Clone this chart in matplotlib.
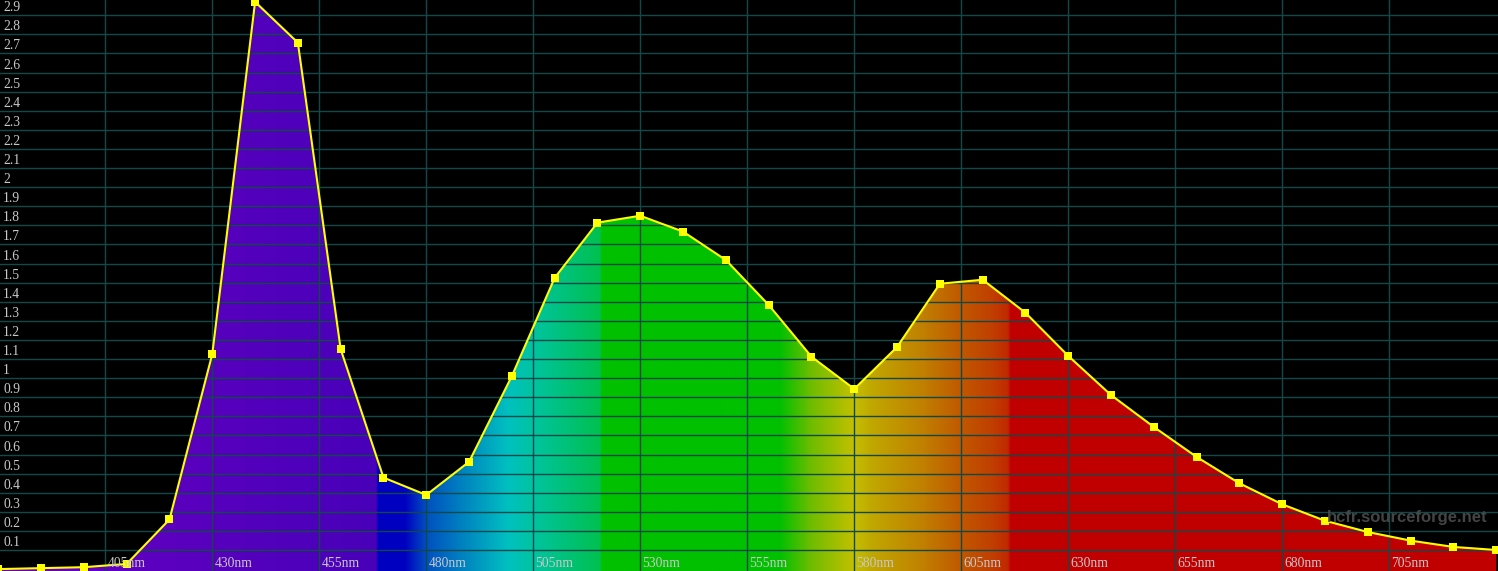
import numpy as np
import matplotlib
matplotlib.use("Agg")
import matplotlib.pyplot as plt
import matplotlib.colors as mcolors

# spectrum samples, every 10 nm
wavelengths = [380, 390, 400, 410, 420, 430, 440, 450, 460, 470, 480, 490, 500,
               510, 520, 530, 540, 550, 560, 570, 580, 590, 600, 610, 620, 630,
               640, 650, 660, 670, 680, 690, 700, 710, 720, 730]
intensity = [0.0, 0.005, 0.01, 0.027, 0.26, 1.126, 2.97, 2.756, 1.151, 0.479,
             0.388, 0.562, 1.011, 1.525, 1.814, 1.850, 1.767, 1.618, 1.383,
             1.112, 0.943, 1.163, 1.494, 1.515, 1.342, 1.116, 0.911, 0.744,
             0.587, 0.449, 0.339, 0.253, 0.194, 0.149, 0.116, 0.100]

y_ticks = [round(0.1 * i, 1) for i in range(1, 30)]
x_ticks = list(range(405, 730, 25))

# fill colour stops along the wavelength axis
color_nm = [380, 468.3, 468.6, 475, 480, 499, 505, 520.5, 521, 562.5, 570,
            580, 584, 596, 605, 612, 616, 616.5, 731]
color_hex = ['#6a00c4', '#4800b8', '#0000c0', '#0000c0', '#0050c0', '#00c0c0',
             '#00c4a0', '#00c050', '#00c000', '#00c000', '#70bc00',
             '#c4c000', '#c0a800', '#c08000', '#c05800', '#c04000',
             '#c02800', '#c00000', '#c00000']

grid_col = '#124848'
text_col = '#c8c8c8'

fig = plt.figure(figsize=(14.98, 5.71), dpi=100, facecolor='black')
ax = fig.add_axes([0, 0, 1, 1])
ax.set_facecolor('black')
x0, x1 = 380.4, 730.4
y0, y1 = -0.00995, 2.9796
ax.set_xlim(x0, x1)
ax.set_ylim(y0, y1)
ax.axis('off')

# gradient image clipped to the area under the curve
grid_nm = np.linspace(x0, x1, 1600)
rgb = np.array([mcolors.to_rgb(c) for c in color_hex])
img = np.stack([np.interp(grid_nm, color_nm, rgb[:, k]) for k in range(3)], axis=-1)
img = img[np.newaxis, :, :]
im = ax.imshow(img, extent=[x0, x1, y0, y1], aspect='auto', origin='lower',
               interpolation='bilinear', zorder=1)
poly = ax.fill_between(wavelengths, intensity, y0 - 0.05, color='none', lw=0)
im.set_clip_path(poly.get_paths()[0], transform=ax.transData)

# grid
for v in y_ticks:
    ax.axhline(v, color=grid_col, lw=1.0, zorder=2)
for t in x_ticks:
    ax.axvline(t, color=grid_col, lw=1.0, zorder=2)

ax.plot(wavelengths, intensity, color='#ffff00', lw=1.5, marker='s',
        markersize=6, markeredgewidth=0, zorder=4, clip_on=True)

# y labels sit just above their grid line
for v in y_ticks:
    lab = f'{v:g}'
    ax.annotate(lab, xy=(0, v), xycoords=('axes fraction', 'data'),
                xytext=(3, 4), textcoords='offset pixels',
                ha='left', va='baseline', color=text_col,
                fontsize=9.8, family='Liberation Serif', zorder=5)

# x labels right of their grid line at the bottom
for t in x_ticks:
    ax.annotate(f'{t}nm', xy=(t, 0), xycoords=('data', 'axes fraction'),
                xytext=(2, 4), textcoords='offset pixels',
                ha='left', va='baseline', color=text_col,
                fontsize=9.8, family='Liberation Serif', zorder=5)

ax.text(0.993, 0.085, 'hcfr.sourceforge.net', transform=ax.transAxes,
        ha='right', va='baseline', color='#4c4c4c', alpha=0.9,
        fontsize=12, fontweight='bold', family='Liberation Sans', zorder=6)

fig.savefig('out.png', dpi=100, facecolor='black')
